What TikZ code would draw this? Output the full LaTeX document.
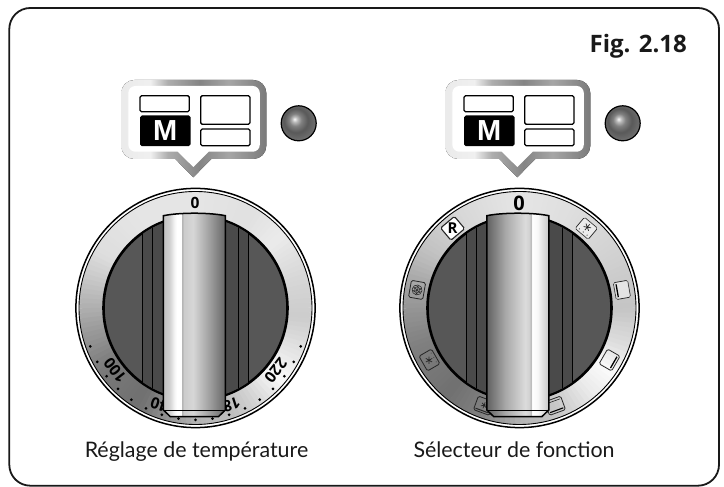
\documentclass[tikz,border=0pt]{standalone}
\usepackage{fontspec}
\setmainfont{Lato}
\newfontfamily\arialb{Liberation Sans}
\newfontfamily\heavy{Open Sans}
\usetikzlibrary{calc}
\pgfdeclarehorizontalshading{handleL}{100bp}{color(0bp)=(black!24!white);color(25bp)=(black!24!white);color(30bp)=(black!18!white);color(34bp)=(black!4!white);color(36bp)=(white);color(39.5bp)=(white);color(40bp)=(black!32!white);color(41.5bp)=(black!20!white);color(49bp)=(black!16!white);color(62.5bp)=(black!38!white);color(75bp)=(black!60!white);color(100bp)=(black!60!white)}
\pgfdeclarehorizontalshading{handleR}{100bp}{color(0bp)=(black!62!white);color(25bp)=(black!62!white);color(40bp)=(black!34!white);color(56bp)=(black!14!white);color(59.5bp)=(black!18!white);color(60.5bp)=(black!30!white);color(61.5bp)=(white);color(66bp)=(black!3!white);color(70bp)=(black!12!white);color(75bp)=(black!22!white);color(100bp)=(black!22!white)}
\pgfdeclarehorizontalshading{panelframe}{100bp}{color(0bp)=(black!8!white);color(25bp)=(black!8!white);color(35bp)=(black!6!white);color(41bp)=(black!32!white);color(52bp)=(black!48!white);color(62bp)=(black!35!white);color(75bp)=(black!52!white);color(100bp)=(black!52!white)}
\pgfdeclareradialshading{ledball}{\pgfpoint{-6bp}{6bp}}{color(0bp)=(black!3!white);color(4bp)=(black!28!white);color(9bp)=(black!50!white);color(17bp)=(black!65!white);color(28bp)=(black!56!white);color(50bp)=(black!50!white)}
\tikzset{
 frame/.style={draw=black!90,line width=1.8pt,rounded corners=21pt},
 figlabel/.style={font=\heavy\fontsize{24}{24}\selectfont\bfseries,text=black!90,inner sep=0pt},
 caption/.style={font=\fontsize{21.4}{21.4}\selectfont,text=black!90,inner sep=0pt},
 dispbox/.style={draw=black,line width=1.3pt,rounded corners=1.5pt,fill=white},
 scaledigit/.style={font=\heavy\fontsize{15.5}{15.5}\selectfont\bfseries,inner sep=0pt,text=black},
 iconbox/.style={draw=black!85,line width=.8pt,rounded corners=1.5pt},
}
\newcommand\panelgroup[1]{%
 \begin{scope}[shift={(#1,0)}]
  \fill[shading=panelframe,rounded corners=0pt,even odd rule]
   [rounded corners=13pt] (-72,407) -- (-72,328) [rounded corners=0pt]-- (-18,328) -- (0,309.7) -- (18,328) [rounded corners=13pt]-- (73,328) -- (73,407) -- cycle;
  \fill[white,rounded corners=7pt] (-65,401) -- (-65,335.3) [rounded corners=0pt]-- (-15.5,335.3) -- (0,320) -- (15.5,335.3) [rounded corners=7pt]-- (66.5,335.3) -- (66.5,401) -- cycle;
  \draw[dispbox] (-53.3,391.3) rectangle (-4,375.3);
  \node[dispbox,fill=black,minimum width=49.3pt,minimum height=29.5pt,inner sep=0pt,anchor=north west,text=white,font=\arialb\bfseries\fontsize{29}{29}\selectfont] at (-53.3,371.6) {M};
  \draw[dispbox] (7.4,391.3) rectangle (56.7,362.7);
  \draw[dispbox] (7.4,358) rectangle (56.7,341.3);
  \shade[shading=ledball,draw=black,line width=1.2pt] (105.4,363.7) circle (17.5);
 \end{scope}}
\newcommand\dial[5]{%
 \begin{scope}[shift={(#1,179)}]
  \filldraw[fill=white,draw=black,line width=1.5pt] (0,0) circle (119.6);
  \foreach \a/\b/\p/\q in {#2}{%
   \pgfmathtruncatemacro\nn{(\b-\a)/2.5-1}%
   \foreach \k in {0,...,\nn}{%
    \pgfmathsetmacro\st{\a+2.5*\k}%
    \pgfmathsetmacro\gg{\p+(\q-\p)*(\k+.5)/(\nn+1)}%
    \definecolor{ringtone}{gray}{\gg}%
    \draw[ringtone,line width=26pt] (\st:103.5) arc[start angle=\st,delta angle=3,radius=103.5];
   }}
  \draw[black,line width=.9pt] (0,0) circle (116.5);
  #3
  \filldraw[fill=black!66,draw=black,line width=2.6pt] (0,0) circle (92);
  \begin{scope}
   \clip (0,0) circle (91);
   \fill[black!71] (-52.8,-95) rectangle (52.8,95);
   \foreach \x in {-52.8,-42.8,42.8,52.8}{\draw[black,line width=.8pt] (\x,-92) -- (\x,92);}
  \end{scope}
  \begin{scope}[shift={(#5,0)}]
   \shade[shading=#4,draw=black,line width=1.5pt] (-31,92.3) .. controls (-15,95.6) and (15,95.6) .. (31,92.3) -- (31,-102) -- (24,-108.7) -- (-24,-108.7) -- (-31,-102) -- cycle;
   \draw[black,line width=.8pt] (-31,-102) -- (31,-102);
  \end{scope}
 \end{scope}}
\newcommand\flake[3]{\draw[black!85,line width=.7pt] (#1,#2) ++(0,#3) -- ++(0,-2*#3) (#1,#2) ++(.87*#3,.5*#3) -- ++(-1.73*#3,-#3) (#1,#2) ++(-.87*#3,.5*#3) -- ++(1.73*#3,-#3);}
\newcommand\ringicon[2]{%
 \begin{scope}[rotate=#1-90,shift={(0,104)}]
  \draw[iconbox] (-8.5,-7.2) rectangle (8.5,7.2);
  #2
 \end{scope}}
\begin{document}
\begin{tikzpicture}[x=1pt,y=1pt]
\useasboundingbox (0,0) rectangle (724,487);
\fill[white] (0,0) rectangle (724,487);
\draw[frame] (9.3,1.3) rectangle (719,479);
\node[figlabel,anchor=base east] (figlabel) at (687,434.3) {Fig. 2.18};
\panelgroup{193.3}
\panelgroup{517.3}
\dial{195.5}{-90/-70/.7/.75,-70/-55/.75/.85,-55/-40/.85/.98,-40/-25/.98/.9,-25/-5/.9/.8,-5/15/.8/.84,15/40/.84/.92,40/60/.92/.88,60/90/.88/.9,90/120/.9/.9,120/150/.9/.87,150/170/.87/.75,170/190/.75/.62,190/215/.62/.47,215/240/.47/.44,240/270/.44/.7}{%
  \foreach \k in {-8,...,8}{\fill[black] ({270+8.75*\k}:112) circle (1.5);}
  \node[scaledigit] (top0) at (-.5,105.5) {0};
  \node[scaledigit,rotate=128] (t100) at (218:102) {100};
  \node[scaledigit,rotate=162] (t140) at (252:103) {140};
  \node[scaledigit,rotate=198] (t180) at (288:103) {180};
  \node[scaledigit,rotate=232] (t220) at (322:102) {220};
 }{handleL}{-1.1}
\dial{519.5}{-90/-70/.7/.78,-70/-50/.78/.92,-50/-35/.92/.98,-35/-20/.98/.87,-20/0/.87/.77,0/30/.77/.82,30/60/.82/.87,60/90/.87/.9,90/120/.9/.85,120/150/.85/.75,150/170/.75/.63,170/200/.63/.5,200/230/.5/.44,230/250/.44/.5,250/270/.5/.7}{%
  \node[scaledigit,font=\heavy\fontsize{20}{20}\selectfont\bfseries] (top0b) at (-.5,104.5) {0};
  \ringicon{130}{\fill[white] (-9,-8) rectangle (9,8);\draw[iconbox,line width=1.1pt] (-9,-8) rectangle (9,8);\node[font=\heavy\fontsize{15}{15}\selectfont\bfseries,inner sep=0pt] (rlabel) at (0,0) {R};}
  \ringicon{170}{\draw[black!85,line width=.6pt] (0,0) circle (5) (0,0) circle (1);\foreach \r in {0,60,...,300}{\draw[black!85,line width=.5pt] (\r:2.8) circle (1);}}
  \ringicon{210}{\flake{0}{.5}{3.6}\foreach \x in {-5,0,5}{\fill[black!70] (\x,-5) circle (.6);}}
  \ringicon{250}{\draw[black!85,line width=1pt] (-7,5.2) -- (7,5.2);\flake{0}{-.5}{3.2}}
  \ringicon{290}{\draw[black,line width=1.1pt] (-7,4.8) -- (7,4.8);\draw[black!85,line width=.6pt] (-7,-4.8) -- (7,-4.8);}
  \ringicon{330}{\draw[black,line width=1.3pt] (-6.5,4.8) -- (6.5,4.8);}
  \ringicon{10}{\fill[white,opacity=.5] (-8,-7) rectangle (8,7);\draw[black,line width=1.3pt] (-6.5,-4.8) -- (6.5,-4.8);}
  \ringicon{50}{\fill[white,opacity=.5] (-8,-7) rectangle (8,7);\flake{0}{1.5}{3.8}\foreach \x in {-5,0,5}{\fill[black!70] (\x,-4.8) circle (.7);}}
 }{handleR}{-1.7}
\node[caption,anchor=base] (cap1) at (196.5,29) {Réglage de température};
\node[caption,anchor=base] (cap2) at (514,29) {Sélecteur de fonction};
\end{tikzpicture}
\end{document}
